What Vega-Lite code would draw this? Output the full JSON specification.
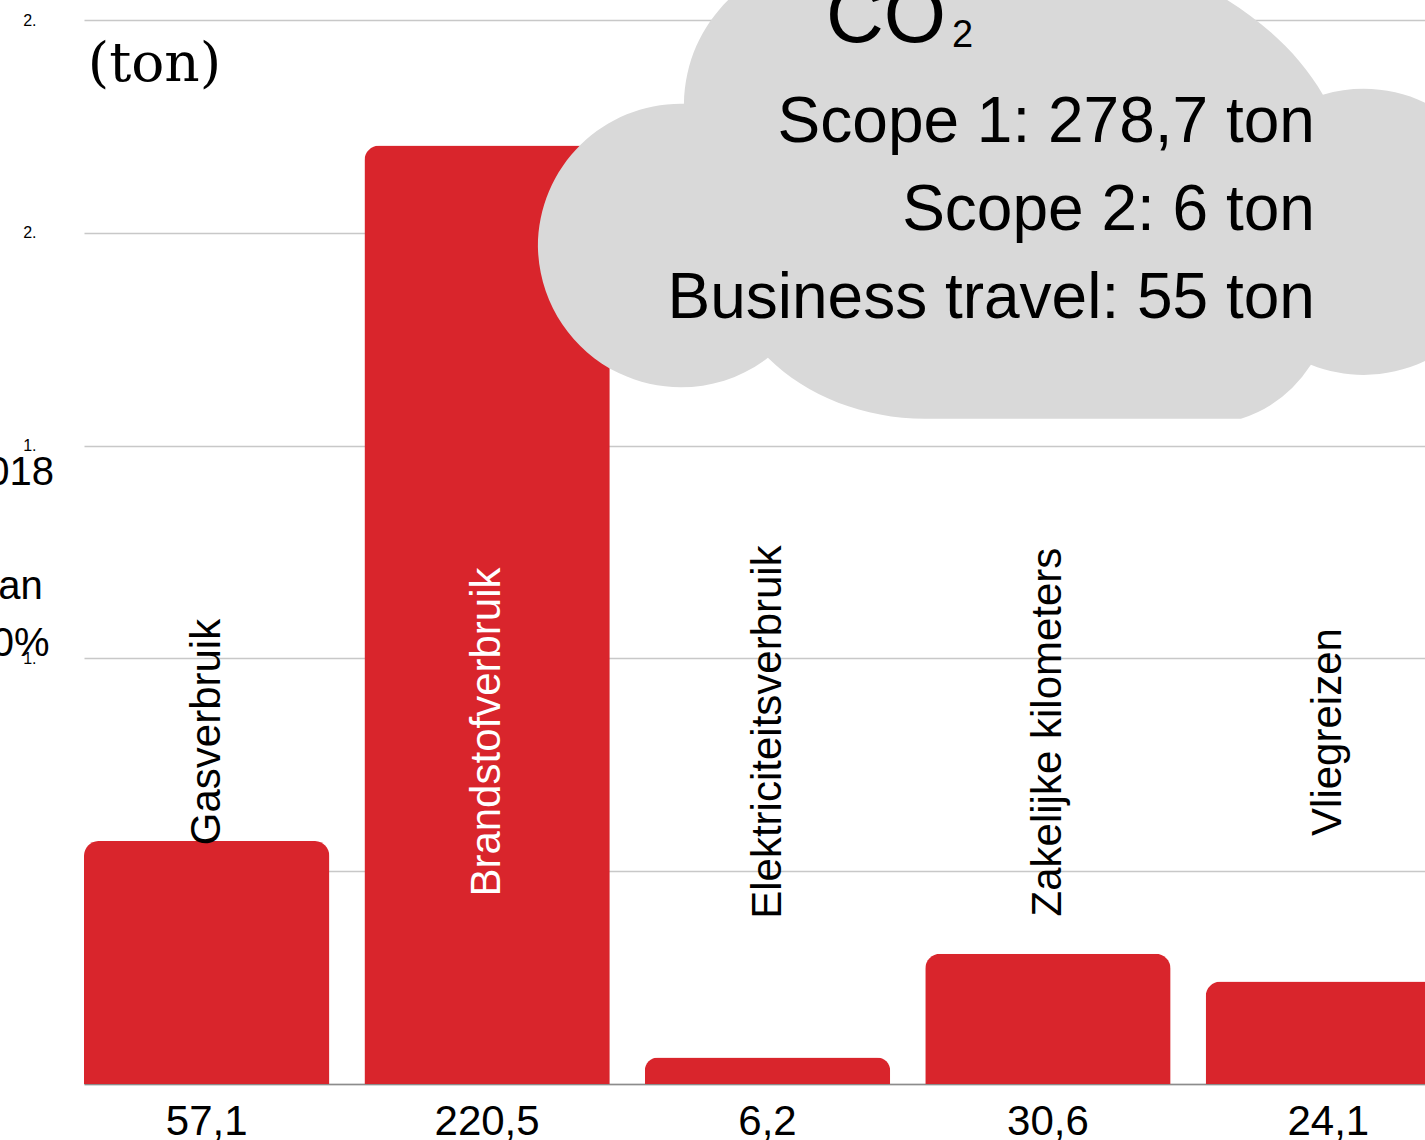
{
  "$schema": "https://vega.github.io/schema/vega-lite/v6.json",
  "width": 1367,
  "height": 1064,
  "autosize": "none",
  "padding": {"left": 84, "top": 20, "right": 0, "bottom": 56},
  "background": "white",
  "config": {
    "view": {"stroke": null},
    "font": "Liberation Sans",
    "locale": {"number": {"decimal": ",", "thousands": ".", "grouping": [3], "currency": ["€", ""]}}
  },
  "data": {
    "values": [
      {"bron": "Gasverbruik", "ton": 57.1},
      {"bron": "Brandstofverbruik", "ton": 220.5},
      {"bron": "Elektriciteitsverbruik", "ton": 6.2},
      {"bron": "Zakelijke kilometers", "ton": 30.6},
      {"bron": "Vliegreizen", "ton": 24.1}
    ]
  },
  "encoding": {
    "x": {
      "field": "bron",
      "type": "nominal",
      "sort": null,
      "scale": {"paddingInner": 0.125, "paddingOuter": 0},
      "axis": {"labels": false, "ticks": false, "title": null, "domainColor": "#8c8c8c", "domainWidth": 1.5}
    }
  },
  "layer": [
    {
      "mark": {"type": "bar", "color": "#d9252c", "cornerRadiusTopLeft": 15, "cornerRadiusTopRight": 15},
      "encoding": {
        "y": {
          "field": "ton",
          "type": "quantitative",
          "scale": {"domain": [0, 250], "nice": false},
          "axis": {
            "values": [0, 50, 100, 150, 200, 250],
            "grid": true,
            "gridColor": "#c8c8c8",
            "gridWidth": 1.5,
            "domain": false,
            "ticks": false,
            "labelExpr": "datum.value >= 200 ? '2.' : (datum.value >= 100 ? '1.' : '')",
            "labelFontSize": 16,
            "labelColor": "black",
            "labelPadding": 48,
            "title": ["2018", "\u200b", "dan", "10%"],
            "titleAngle": 0,
            "titleAlign": "center",
            "titleBaseline": "alphabetic",
            "titleX": -75,
            "titleY": 464,
            "titleFontSize": 40,
            "titleFontWeight": "normal",
            "titleColor": "black",
            "titleLineHeight": 57
          }
        }
      }
    },
    {
      "mark": {"type": "text", "angle": 270, "align": "center", "baseline": "middle", "fontSize": 42},
      "encoding": {
        "y": {"datum": 82.7, "type": "quantitative"},
        "text": {"field": "bron"},
        "color": {"condition": {"test": "datum.ton > 165", "value": "white"}, "value": "black"}
      }
    },
    {
      "mark": {"type": "text", "align": "center", "baseline": "alphabetic", "fontSize": 42, "dy": 51, "color": "black"},
      "encoding": {
        "y": {"datum": 0, "type": "quantitative"},
        "text": {"field": "ton", "type": "quantitative", "format": ".1f"}
      }
    },
    {
      "data": {"values": [{"item": "eenheid"}]},
      "mark": {"type": "text", "align": "left", "baseline": "alphabetic", "font": "DejaVu Serif", "fontSize": 55, "dx": -119, "dy": 61, "color": "black", "text": "(ton)"},
      "encoding": {
        "x": {"datum": "Gasverbruik"},
        "y": {"datum": 250, "type": "quantitative"}
      }
    },
    {
      "data": {"values": [{"item": "cloud"}]},
      "mark": {
        "type": "point",
        "shape": "M -5.10 0.14 A 1.43 1.43 0 0 1 -3.64 -1.29 C -3.58 -3.73 1.52 -3.53 2.75 -1.38 A 1.43 1.43 0 1 1 2.63 1.32 Q 2.37 1.72 1.93 1.86 L -1.23 1.86 A 2.05 1.70 0 0 1 -2.80 1.25 A 1.43 1.43 0 0 1 -5.10 0.14 Z",
        "size": 40000,
        "filled": true,
        "color": "#d9d9d9",
        "opacity": 1,
        "strokeWidth": 0
      },
      "encoding": {
        "x": {"datum": "Zakelijke kilometers"},
        "y": {"datum": 200, "type": "quantitative"}
      }
    },
    {
      "data": {"values": [{"item": "co"}]},
      "mark": {"type": "text", "align": "left", "baseline": "alphabetic", "fontSize": 80, "dx": -222, "color": "black", "text": "CO"},
      "encoding": {
        "x": {"datum": "Zakelijke kilometers"},
        "y": {"datum": 244.8, "type": "quantitative"}
      }
    },
    {
      "data": {"values": [{"item": "sub"}]},
      "mark": {"type": "text", "align": "left", "baseline": "alphabetic", "fontSize": 38, "dx": -96, "dy": 5, "color": "black", "text": "2"},
      "encoding": {
        "x": {"datum": "Zakelijke kilometers"},
        "y": {"datum": 244.8, "type": "quantitative"}
      }
    },
    {
      "data": {"values": [{"item": "scopes"}]},
      "mark": {"type": "text", "align": "right", "baseline": "alphabetic", "fontSize": 64, "lineHeight": 88, "dx": 267, "color": "black"},
      "encoding": {
        "x": {"datum": "Zakelijke kilometers"},
        "y": {"datum": 221.3, "type": "quantitative"},
        "text": {"value": ["Scope 1: 278,7 ton", "Scope 2: 6 ton", "Business travel: 55 ton"]}
      }
    }
  ]
}
